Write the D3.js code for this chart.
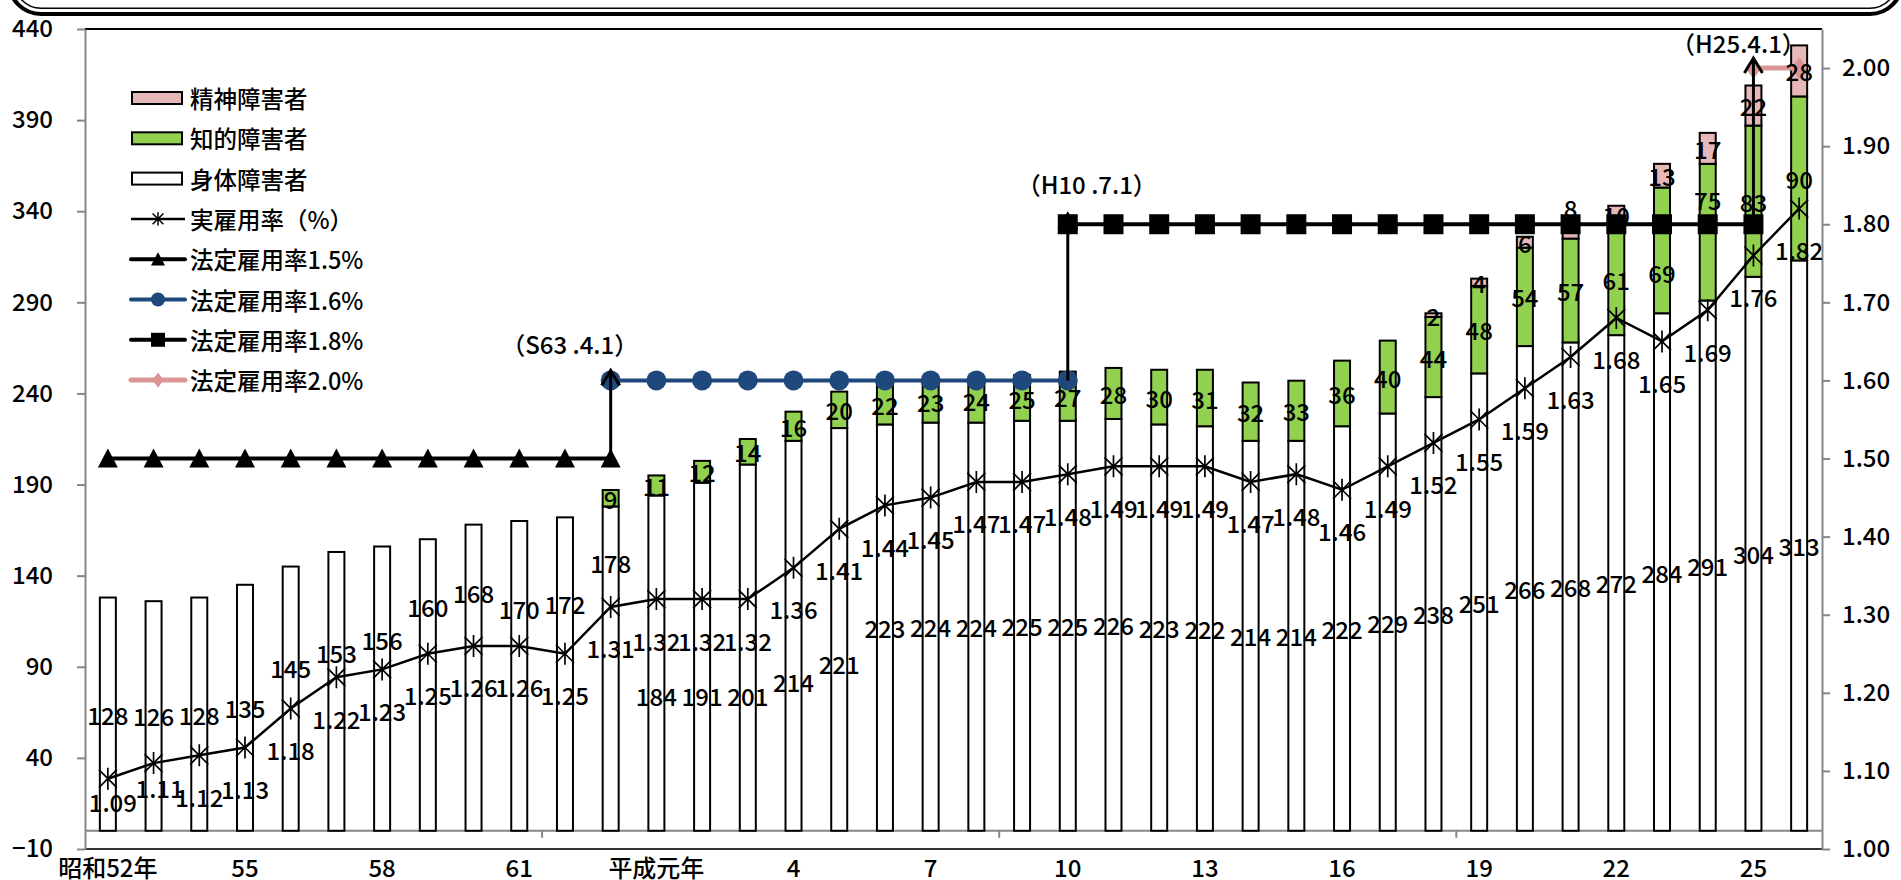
<!DOCTYPE html>
<html>
<head>
<meta charset="utf-8">
<script src="https://cdn.jsdelivr.net/npm/d3@7"></script>
<style>
  body { margin: 0; background: #fff; }
  svg { display: block; }
</style>
</head>
<body>
<svg id="chart" width="1901" height="880"></svg>
<script>
// ---- data ----------------------------------------------------------------
const years = d3.range(1977, 2015);
const tickLabels = ["昭和52年", "55", "58", "61", "平成元年", "4", "7", "10", "13", "16", "19", "22", "25"];

// 雇用障害者数（千人）
const physical = [128, 126, 128, 135, 145, 153, 156, 160, 168, 170, 172, 178, 184, 191, 201, 214, 221, 223, 224, 224,
                  225, 225, 226, 223, 222, 214, 214, 222, 229, 238, 251, 266, 268, 272, 284, 291, 304, 313];
const intellectual = [0, 0, 0, 0, 0, 0, 0, 0, 0, 0, 0, 9, 11, 12, 14, 16, 20, 22, 23, 24,
                      25, 27, 28, 30, 31, 32, 33, 36, 40, 44, 48, 54, 57, 61, 69, 75, 83, 90];
const mental = [0, 0, 0, 0, 0, 0, 0, 0, 0, 0, 0, 0, 0, 0, 0, 0, 0, 0, 0, 0,
                0, 0, 0, 0, 0, 0, 0, 0, 0, 2, 4, 6, 8, 10, 13, 17, 22, 28];

// 実雇用率（%）
const actualRate = [1.09, 1.11, 1.12, 1.13, 1.18, 1.22, 1.23, 1.25, 1.26, 1.26, 1.25, 1.31, 1.32, 1.32, 1.32, 1.36, 1.41, 1.44, 1.45, 1.47,
                    1.47, 1.48, 1.49, 1.49, 1.49, 1.47, 1.48, 1.46, 1.49, 1.52, 1.55, 1.59, 1.63, 1.68, 1.65, 1.69, 1.76, 1.82];

// 法定雇用率 and the periods in which each applied
const legalRates = [1.5, 1.6, 1.8, 2.0];
const legalFrom = [1977, 1988, 1998, 2013];
const legalTo = [1988, 1998, 2013, 2014];
const revisionLabels = ["（S63 .4.1）", "（H10 .7.1）", "（H25.4.1）"];

// ---- label placement (axis units / pixel nudges) --------------------------
const physLabelAt = {1981: 89.5, 1982: 98, 1983: 105, 1984: 123, 1985: 131, 1986: 122, 1987: 125,
                     1988: 147, 1989: 74, 1990: 74, 1991: 74, 1992: 82, 1993: 92};
const intelLabelAt = {2011: 306.6, 2012: 346.7};
const mentalLabelAt = {2009: 342};
const rateLabelNudge = {1977: [5, -18], 1978: [6, -17]};
const revisionLabelShift = [[-41, -37], [19, -41], [-15, -26]];

// ---- setup ---------------------------------------------------------------
const FONT = '"Noto Sans CJK JP", "Noto Sans", sans-serif';
const AXIS_GRAY = "#868686";
const GREEN = "#92d050", PINK = "#e6b9b8", PINK_LINE = "#d99694", BLUE = "#1f497d";
const FS = 24;

const svg = d3.select("#chart").attr("font-family", FONT).attr("font-weight", 500);
const plot = {left: 85, right: 1822, top: 29, bottom: 849};

const x = d3.scaleBand().domain(years).range([plot.left, plot.right]);
const cx = yr => x(yr) + x.bandwidth() / 2;
const yL = d3.scaleLinear().domain([-10, 440]).range([plot.bottom, plot.top]);
const yR = d3.scaleLinear().domain([1.0, 2.05]).range([plot.bottom, plot.top]);
const BAR_W = 16;

// ---- heading frame (lower edge of a rounded double-lined box) -------------
svg.append("rect").attr("x", 9).attr("y", -200).attr("width", 1893).attr("height", 214)
  .attr("rx", 32).attr("fill", "none").attr("stroke", "#000").attr("stroke-width", 4.2);
svg.append("rect").attr("x", 14.5).attr("y", -200).attr("width", 1882).attr("height", 208.3)
  .attr("rx", 26.5).attr("fill", "none").attr("stroke", "#000").attr("stroke-width", 1.6);

// ---- plot borders and axes ------------------------------------------------
svg.append("line").attr("x1", plot.left).attr("x2", plot.right).attr("y1", plot.top).attr("y2", plot.top)
  .attr("stroke", "#000").attr("stroke-width", 2);
svg.append("line").attr("x1", plot.left).attr("x2", plot.right).attr("y1", plot.bottom).attr("y2", plot.bottom)
  .attr("stroke", "#333").attr("stroke-width", 2);

function styleAxis(g) {
  g.attr("font-family", FONT).attr("font-size", FS).attr("font-weight", 500);
  g.select(".domain").attr("stroke", AXIS_GRAY).attr("stroke-width", 2);
  g.selectAll(".tick line").attr("stroke", AXIS_GRAY).attr("stroke-width", 2);
  g.selectAll(".tick text").attr("fill", "#000");
}

svg.append("g").attr("transform", `translate(${plot.left},0)`)
  .call(d3.axisLeft(yL).tickValues(d3.range(-10, 441, 50)).tickSize(8).tickPadding(24).tickSizeOuter(0))
  .call(styleAxis);

svg.append("g").attr("transform", `translate(${plot.right},0)`)
  .call(d3.axisRight(yR).tickValues(d3.range(0, 11).map(i => 1 + i / 10))
    .tickFormat(d3.format(".2f")).tickSize(8).tickPadding(12).tickSizeOuter(0))
  .call(styleAxis);

// category axis at zero
svg.append("line").attr("x1", plot.left).attr("x2", plot.right).attr("y1", yL(0)).attr("y2", yL(0))
  .attr("stroke", AXIS_GRAY).attr("stroke-width", 2);
svg.append("g").selectAll("line").data(years.filter((d, i) => i > 0 && i % 10 === 0)).join("line")
  .attr("x1", d => x(d)).attr("x2", d => x(d)).attr("y1", yL(0)).attr("y2", yL(0) + 7)
  .attr("stroke", AXIS_GRAY).attr("stroke-width", 2);

svg.append("g").selectAll("text").data(years.filter((d, i) => i % 3 === 0)).join("text")
  .attr("x", d => cx(d)).attr("y", 866).attr("text-anchor", "middle").attr("dominant-baseline", "central")
  .attr("font-size", FS).text((d, i) => tickLabels[i]);

// ---- stacked bars --------------------------------------------------------
const rows = years.map((yr, i) => ({year: yr, physical: physical[i], intellectual: intellectual[i], mental: mental[i]}));
const keys = ["physical", "intellectual", "mental"];
const fills = {physical: "#fff", intellectual: GREEN, mental: PINK};
const stacked = d3.stack().keys(keys)(rows);

svg.append("g").selectAll("g").data(stacked).join("g").attr("fill", d => fills[d.key])
  .selectAll("rect").data(d => d.filter(s => s[1] - s[0] > 0)).join("rect")
  .attr("x", d => cx(d.data.year) - BAR_W / 2).attr("width", BAR_W)
  .attr("y", d => yL(d[1])).attr("height", d => yL(d[0]) - yL(d[1]))
  .attr("stroke", "#000").attr("stroke-width", 2);

// ---- legal employment rate steps -----------------------------------------
const markerPath = {
  tri: "M0,-10L10,9L-10,9Z",
  sq: "M-10,-10H10V10H-10Z",
  dia: "M0,-11L8,0L0,11L-8,0Z"
};
const legalStyle = [
  {stroke: "#000", width: 4, marker: "tri", fill: "#000"},
  {stroke: BLUE, width: 4, marker: "circle", fill: BLUE},
  {stroke: "#000", width: 4, marker: "sq", fill: "#000"},
  {stroke: PINK_LINE, width: 5, marker: "dia", fill: PINK_LINE}
];

legalRates.forEach((rate, k) => {
  const pts = years.filter(yr => yr >= legalFrom[k] && yr <= legalTo[k]);
  const st = legalStyle[k];
  const g = svg.append("g");
  g.append("path").datum(pts)
    .attr("d", d3.line().x(d => cx(d)).y(() => yR(rate)))
    .attr("fill", "none").attr("stroke", st.stroke).attr("stroke-width", st.width);
  if (st.marker === "circle") {
    g.selectAll("circle").data(pts).join("circle")
      .attr("cx", d => cx(d)).attr("cy", yR(rate)).attr("r", 10).attr("fill", st.fill);
  } else {
    g.selectAll("path.m").data(pts).join("path").attr("class", "m")
      .attr("transform", d => `translate(${cx(d)},${yR(rate)})`)
      .attr("d", markerPath[st.marker]).attr("fill", st.fill);
  }
});

// revision arrows with dates
legalRates.slice(0, -1).forEach((rate, k) => {
  const yr = legalFrom[k + 1];
  const x0 = cx(yr), y0 = yR(rate), y1 = yR(legalRates[k + 1]) - 10;
  const g = svg.append("g").attr("stroke", "#000").attr("stroke-width", 3).attr("fill", "none");
  g.append("line").attr("x1", x0).attr("x2", x0).attr("y1", y0).attr("y2", y1);
  g.append("path").attr("d", `M${x0 - 9},${y1 + 15}L${x0},${y1}L${x0 + 9},${y1 + 15}`);
  svg.append("text").attr("x", x0 + revisionLabelShift[k][0]).attr("y", yR(legalRates[k + 1]) + revisionLabelShift[k][1])
    .attr("text-anchor", "middle").attr("dominant-baseline", "central").attr("font-size", FS)
    .text(revisionLabels[k]);
});

// ---- actual employment rate line -----------------------------------------
const star = "M-9,-9L9,9M-9,9L9,-9M0,-11L0,11";
svg.append("path").datum(years)
  .attr("d", d3.line().x(d => cx(d)).y((d, i) => yR(actualRate[i])))
  .attr("fill", "none").attr("stroke", "#000").attr("stroke-width", 2.5);
svg.append("g").selectAll("path").data(years).join("path")
  .attr("transform", (d, i) => `translate(${cx(d)},${yR(actualRate[i])})`)
  .attr("d", star).attr("stroke", "#000").attr("stroke-width", 1.7).attr("fill", "none");

// ---- data labels ---------------------------------------------------------
const labels = svg.append("g").attr("font-size", FS).attr("text-anchor", "middle").attr("dominant-baseline", "central");

stacked.forEach(s => {
  const overrides = {physical: physLabelAt, intellectual: intelLabelAt, mental: mentalLabelAt}[s.key];
  labels.append("g").selectAll("text").data(s.filter(d => d[1] - d[0] > 0)).join("text")
    .attr("x", d => cx(d.data.year))
    .attr("y", d => yL(overrides[d.data.year] !== undefined ? overrides[d.data.year] : (d[0] + d[1]) / 2))
    .text(d => d.data[s.key]);
});

labels.append("g").selectAll("text").data(years).join("text")
  .attr("x", d => cx(d) + (rateLabelNudge[d] ? rateLabelNudge[d][0] : 0))
  .attr("y", (d, i) => yR(actualRate[i]) + 41 + (rateLabelNudge[d] ? rateLabelNudge[d][1] : 0))
  .text((d, i) => d3.format(".2f")(actualRate[i]));

// ---- legend --------------------------------------------------------------
const legendItems = [
  {label: "精神障害者", type: "box", fill: PINK},
  {label: "知的障害者", type: "box", fill: GREEN},
  {label: "身体障害者", type: "box", fill: "#fff"},
  {label: "実雇用率（%）", type: "star"},
  {label: "法定雇用率1.5%", type: "line", k: 0},
  {label: "法定雇用率1.6%", type: "line", k: 1},
  {label: "法定雇用率1.8%", type: "line", k: 2},
  {label: "法定雇用率2.0%", type: "line", k: 3}
];
const lg = svg.append("g").attr("transform", "translate(131,98)");
legendItems.forEach((it, i) => {
  const row = lg.append("g").attr("transform", `translate(0,${i * 40.3})`);
  if (it.type === "box") {
    row.append("rect").attr("x", 1).attr("y", -6).attr("width", 50).attr("height", 12)
      .attr("fill", it.fill).attr("stroke", "#000").attr("stroke-width", 2);
  } else if (it.type === "star") {
    row.append("line").attr("x1", 0).attr("x2", 54).attr("stroke", "#000").attr("stroke-width", 2.5);
    row.append("path").attr("transform", "translate(27,0) scale(0.6)").attr("d", star)
      .attr("stroke", "#000").attr("stroke-width", 2.5).attr("fill", "none");
  } else {
    const st = legalStyle[it.k];
    row.append("line").attr("x1", 0).attr("x2", 54).attr("stroke", st.stroke).attr("stroke-width", st.width)
      .attr("stroke-linecap", "round");
    if (st.marker === "circle") {
      row.append("circle").attr("cx", 27).attr("r", 7).attr("fill", st.fill);
    } else {
      row.append("path").attr("transform", "translate(27,0) scale(0.7)").attr("d", markerPath[st.marker]).attr("fill", st.fill);
    }
  }
  row.append("text").attr("x", 59).attr("dominant-baseline", "central").attr("font-size", 23.5).text(it.label);
});
</script>
</body>
</html>
